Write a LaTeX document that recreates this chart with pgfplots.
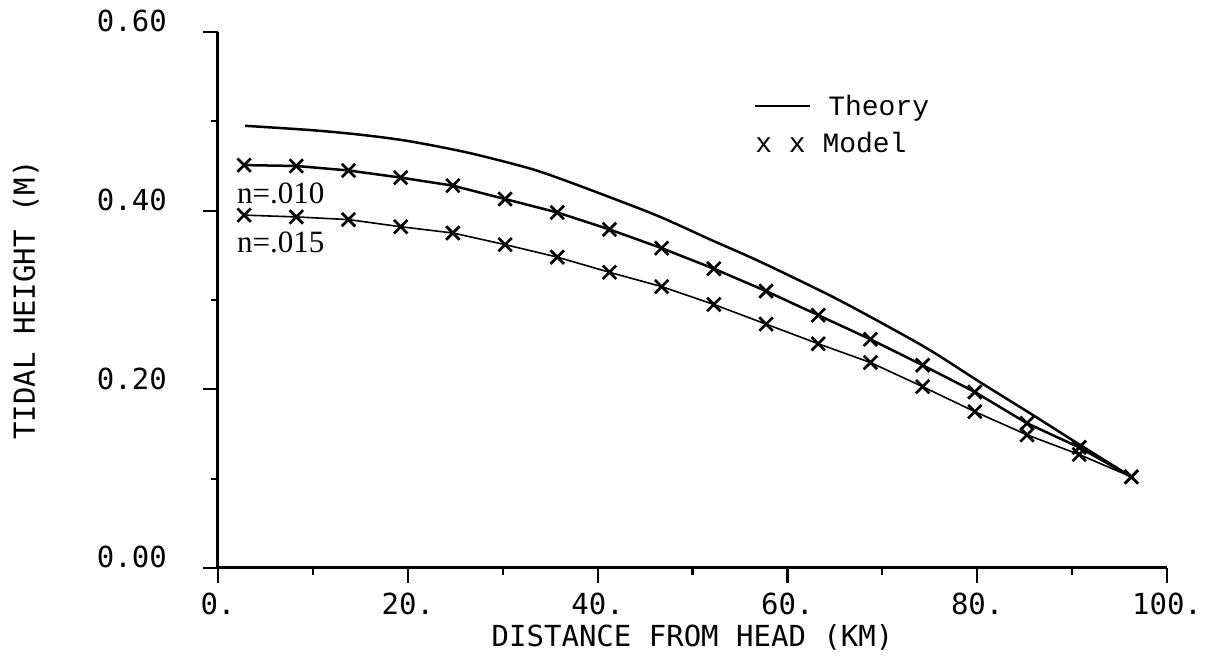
\documentclass[border=0pt]{standalone}
\usepackage{fontspec}
\setmainfont{Liberation Serif}
\newfontfamily\plotfont{DejaVu Sans Mono}
\newfontfamily\typefont{Liberation Mono}
\usepackage{pgfplots}
\pgfplotsset{compat=1.18}
\usetikzlibrary{calc}

\begin{document}
\begin{tikzpicture}
\begin{axis}[
    name=ax,
    scale only axis,
    width=949pt, height=536pt,
    xmin=0, xmax=100, ymin=0, ymax=0.6,
    axis lines*=left,
    axis line style={line width=3pt},
    tick align=outside,
    major tick length=15pt,
    minor tick length=7pt,
    every tick/.style={black, line width=2.2pt},
    xtick={0,20,40,60,80,100},
    xticklabels={0.,20.,40.,60.,80.,100.},
    minor xtick={10,30,50,70,90},
    ytick={0,0.2,0.4,0.6},
    yticklabels={0.00,0.20,0.40,0.60},
    minor ytick={0.1,0.3,0.5},
    tick label style={font=\plotfont\fontsize{29}{32}\selectfont, inner sep=0pt},
    xticklabel style={anchor=base},
    xticklabel shift=32pt,
    yticklabel style={anchor=base east},
    yticklabel shift=36pt,
    xlabel={DISTANCE FROM HEAD (KM)},
    ylabel={TIDAL HEIGHT (M)},
    label style={font=\plotfont\fontsize{29}{32}\selectfont, inner sep=0pt},
    xlabel style={at={(axis description cs:0.5,-0.147)}, anchor=base},
    ylabel style={at={(axis description cs:-0.193,0.5)}, anchor=base, rotate=0},
    clip=false,
]

% theory
\addplot[black, line width=2.5pt, smooth] coordinates {
    (2.85,0.495) (10,0.490) (15,0.485) (20,0.478) (26.3,0.465) (32.6,0.448)
    (36.0,0.436) (41.3,0.415) (46.6,0.393) (51.8,0.368) (57.1,0.343)
    (64.5,0.305) (69.8,0.275) (75.0,0.244) (80.3,0.208) (85.6,0.173)
    (90.8,0.138) (96.25,0.102)
};

% model n=.010
\addplot[black, line width=2.5pt, mark=x, mark size=9.5pt,
    mark options={line width=2.7pt}] coordinates {
    (2.75,0.451) (8.25,0.450) (13.75,0.445) (19.25,0.437) (24.75,0.428)
    (30.25,0.413) (35.75,0.398) (41.25,0.379) (46.75,0.358) (52.25,0.335)
    (57.75,0.310) (63.25,0.283) (68.75,0.256) (74.25,0.227) (79.75,0.197)
    (85.25,0.162) (90.75,0.135) (96.25,0.102)
};

% model n=.015
\addplot[black, line width=1.6pt, mark=x, mark size=9.5pt,
    mark options={line width=2.7pt}] coordinates {
    (2.75,0.395) (8.25,0.393) (13.75,0.390) (19.25,0.382) (24.75,0.375)
    (30.25,0.362) (35.75,0.348) (41.25,0.331) (46.75,0.315) (52.25,0.295)
    (57.75,0.273) (63.25,0.251) (68.75,0.230) (74.25,0.203) (79.75,0.175)
    (85.25,0.149) (90.75,0.127) (96.25,0.102)
};

\node[anchor=west, inner sep=0pt, font=\typefont\fontsize{28}{30}\selectfont]
    at (axis cs:56.6,0.515) {\rule[0.28em]{55pt}{2pt}\hspace{18pt}Theory};
\node[anchor=west, inner sep=0pt, font=\typefont\fontsize{28}{30}\selectfont]
    at (axis cs:56.6,0.476) {x x Model};

\node[anchor=west, inner sep=0pt, font=\fontsize{31}{34}\selectfont]
    at (axis cs:2.0,0.419) {n=.010};
\node[anchor=west, inner sep=0pt, font=\fontsize{31}{34}\selectfont]
    at (axis cs:2.0,0.365) {n=.015};

\end{axis}
\pgfresetboundingbox
\path[use as bounding box] ($(ax.south west)+(-218pt,-88pt)$) rectangle ($(ax.north east)+(50pt,32pt)$);
\end{tikzpicture}
\end{document}
